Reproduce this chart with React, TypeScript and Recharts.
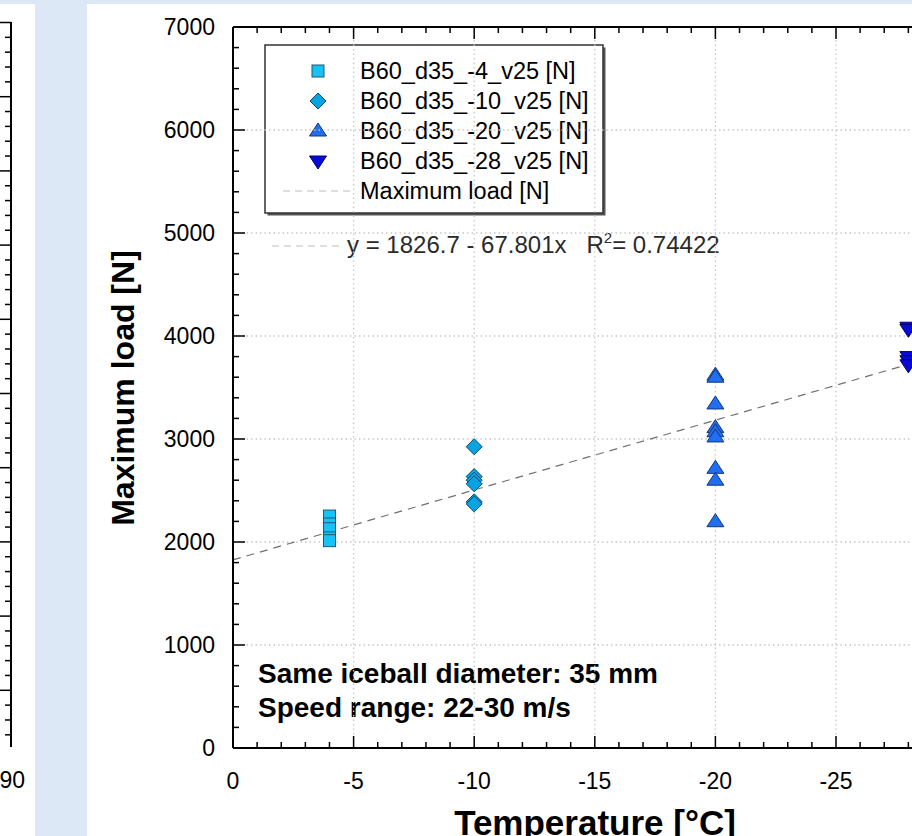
import React from 'react';
import { ComposedChart, Scatter, XAxis, YAxis, ReferenceLine, Customized } from 'recharts';

// ---------- data ----------
const seriesNames = ['B60_d35_-4_v25 [N]', 'B60_d35_-10_v25 [N]', 'B60_d35_-20_v25 [N]', 'B60_d35_-28_v25 [N]'];
const seriesTemps = [-4, -10, -20, -28];
const loadsMinus4 = [2252, 2175, 2129, 2040, 2013];
const loadsMinus10 = [2925, 2635, 2600, 2565, 2390, 2370];
const loadsMinus20 = [3620, 3600, 3340, 3110, 3070, 3020, 2715, 2600, 2197];
const loadsMinus28 = [4085, 4065, 3800, 3760, 3720];
const fitName = 'Maximum load [N]';
const fitIntercept = 1826.7;
const fitSlope = -67.801;
const fitR2 = '0.74422';
const fitTempRange = [0, -30];
const xTicks = Array.from({ length: 31 }, (_, i) => -i);
const yTicks = Array.from({ length: 36 }, (_, i) => i * 200);
const xMajor = [-5, -10, -15, -20, -25];
const yMajor = [1000, 2000, 3000, 4000, 5000, 6000];
const noteLines = ['Same iceball diameter: 35 mm', 'Speed range: 22-30 m/s'];
const leftPanelLabel = '90';

const toData = (t: number, loads: number[]) => loads.map((load) => ({ t, load }));
const data4 = toData(seriesTemps[0], loadsMinus4);
const data10 = toData(seriesTemps[1], loadsMinus10);
const data20 = toData(seriesTemps[2], loadsMinus20);
const data28 = toData(seriesTemps[3], loadsMinus28);

const FONT = '"Liberation Sans", Arial, Helvetica, sans-serif';
const COLORS = {
  sq: '#16c3f4', sqS: '#1f5a70',
  dm: '#0aa3e2', dmS: '#0c4a6a',
  up: '#1f6ff0', upS: '#16367a',
  dn: '#0a0ad6', dnS: '#00006e',
};

// ---------- marker shapes ----------
const Square = ({ cx, cy }: any) => (
  <rect x={cx - 6} y={cy - 6} width={12} height={12} fill={COLORS.sq} stroke={COLORS.sqS} strokeWidth={1} />
);
const Diamond = ({ cx, cy }: any) => (
  <polygon points={`${cx},${cy - 8} ${cx + 8},${cy} ${cx},${cy + 8} ${cx - 8},${cy}`} fill={COLORS.dm} stroke={COLORS.dmS} strokeWidth={1} />
);
const TriUp = ({ cx, cy }: any) => (
  <polygon points={`${cx},${cy - 8} ${cx + 8.5},${cy + 5} ${cx - 8.5},${cy + 5}`} fill={COLORS.up} stroke={COLORS.upS} strokeWidth={1} />
);
const TriDown = ({ cx, cy }: any) => (
  <polygon points={`${cx - 8.5},${cy - 5} ${cx + 8.5},${cy - 5} ${cx},${cy + 8}`} fill={COLORS.dn} stroke={COLORS.dnS} strokeWidth={1} />
);
const shapes = [Square, Diamond, TriUp, TriDown];

// ---------- ticks ----------
const BottomTick = ({ x, y, payload }: any) => {
  const v = payload.value;
  const major = v % 5 === 0;
  return (
    <g>
      <line x1={x} x2={x} y1={y} y2={y - (major ? 12 : 6)} stroke="#000" strokeWidth={1.5} />
      {major && v > -30 && (
        <text x={x} y={y + 41} textAnchor="middle" fontSize={23} fontFamily={FONT} fill="#000">
          {v === 0 ? '0' : String(v)}
        </text>
      )}
    </g>
  );
};
const TopTick = ({ x, y, payload }: any) => {
  const v = payload.value;
  const major = v % 5 === 0;
  return <line x1={x} x2={x} y1={y} y2={y + (major ? 12 : 6)} stroke="#000" strokeWidth={1.5} />;
};
const LeftTick = ({ x, y, payload }: any) => {
  const v = payload.value;
  const major = v % 1000 === 0;
  return (
    <g>
      <line x1={x} x2={x + (major ? 12 : 6)} y1={y} y2={y} stroke="#000" strokeWidth={1.5} />
      {major && (
        <text x={x - 18} y={y + 8} textAnchor="end" fontSize={23} fontFamily={FONT} fill="#000">
          {String(v)}
        </text>
      )}
    </g>
  );
};

// ---------- overlay texts & legend ----------
const Overlay = () => {
  const lx = 178, ly = 41, lw = 338, lh = 168;
  const rowY = [67, 97, 127, 157, 187];
  return (
    <g>
      {/* axis titles */}
      <text x={47} y={384} transform="rotate(-90, 47, 384)" textAnchor="middle" fontSize={32} fontWeight="bold" fontFamily={FONT} fill="#000">
        Maximum load [N]
      </text>
      <text x={508} y={831} textAnchor="middle" fontSize={35} fontWeight="bold" fontFamily={FONT} fill="#000">
        Temperature [°C]
      </text>
      {/* notes */}
      {noteLines.map((s, i) => (
        <text key={s} x={171} y={679 + i * 34} fontSize={28} fontWeight="bold" fontFamily={FONT} fill="#000">{s}</text>
      ))}
      {/* equation */}
      <line x1={185} x2={253} y1={242} y2={242} stroke="#bdbdbd" strokeWidth={1.2} strokeDasharray="7 5" />
      <text x={260} y={249} fontSize={24} fontFamily={FONT} fill="#2a2a2a" xmlSpace="preserve" style={{ whiteSpace: 'pre' }}>
        {`y = ${fitIntercept} - ${Math.abs(fitSlope)}x   R`}
        <tspan fontSize={15} dy={-10}>2</tspan>
        <tspan dy={10}>{`= ${fitR2}`}</tspan>
      </text>
      {/* legend */}
      <rect x={lx + 2.5} y={ly + 2.5} width={lw} height={lh} fill="#555" />
      <rect x={lx} y={ly} width={lw} height={lh} fill="#fff" stroke="#333" strokeWidth={1.5} />
      {seriesNames.map((name, i) => {
        const Shape = shapes[i];
        return (
          <g key={name}>
            <Shape cx={231} cy={rowY[i]} />
            <text x={273} y={rowY[i] + 8} fontSize={23.5} fontFamily={FONT} fill="#000">{name}</text>
          </g>
        );
      })}
      <line x1={196} x2={265} y1={rowY[4]} y2={rowY[4]} stroke="#bdbdbd" strokeWidth={1.2} strokeDasharray="7 5" />
      <text x={273} y={rowY[4] + 8} fontSize={23.5} fontFamily={FONT} fill="#000">{fitName}</text>
    </g>
  );
};

// ---------- left fragment of neighbouring panel ----------
const LeftFragment = () => {
  const ticks = Array.from({ length: 49 }, (_, i) => i);
  return (
    <svg width={35} height={832} style={{ display: 'block' }}>
      <line x1={11} x2={11} y1={18} y2={743} stroke="#000" strokeWidth={2} />
      {ticks.map((i) => {
        const y = 18.5 + i * 14.84;
        const major = i % 5 === 0;
        return <line key={i} x1={major ? 0 : 5} x2={11} y1={y} y2={y} stroke="#000" strokeWidth={1.5} />;
      })}
      <text x={25} y={784} textAnchor="end" fontSize={23} fontFamily={FONT} fill="#000">{leftPanelLabel}</text>
    </svg>
  );
};

export default function App() {
  const fitY0 = fitIntercept + fitSlope * fitTempRange[0];
  const fitY1 = fitIntercept + fitSlope * fitTempRange[1];
  return (
    <div style={{ position: 'absolute', left: 0, top: 0, width: 912, height: 836, overflow: 'hidden', background: '#dce8f5' }}>
      <div style={{ position: 'absolute', left: 0, top: 4, width: 35, height: 832, background: '#fff' }}>
        <LeftFragment />
      </div>
      <div style={{ position: 'absolute', left: 87, top: 4, width: 825, height: 832, background: '#fff', overflow: 'hidden' }}>
        <ComposedChart width={900} height={832} margin={{ top: 22, right: 30.4, bottom: 28, left: 86 }}>
          <XAxis
            xAxisId={0}
            type="number"
            dataKey="t"
            domain={[-30, 0]}
            reversed
            ticks={xTicks}
            interval={0}
            allowDataOverflow
            height={60}
            tickSize={0}
            tickMargin={0}
            tickLine={false}
            axisLine={{ stroke: '#000', strokeWidth: 2 }}
            tick={<BottomTick />}
          />
          <XAxis
            xAxisId="top"
            orientation="top"
            type="number"
            dataKey="t"
            domain={[-30, 0]}
            reversed
            ticks={xTicks}
            interval={0}
            allowDataOverflow
            height={1}
            tickSize={0}
            tickMargin={0}
            tickLine={false}
            axisLine={{ stroke: '#000', strokeWidth: 2 }}
            tick={<TopTick />}
          />
          <YAxis
            type="number"
            dataKey="load"
            domain={[0, 7000]}
            ticks={yTicks}
            interval={0}
            allowDataOverflow
            width={60}
            tickSize={0}
            tickMargin={0}
            tickLine={false}
            axisLine={{ stroke: '#000', strokeWidth: 2 }}
            tick={<LeftTick />}
          />
          {yMajor.map((v) => (
            <ReferenceLine key={'h' + v} y={v} stroke="#c8c8c8" strokeWidth={1.3} strokeDasharray="1.5 3" />
          ))}
          {xMajor.map((v) => (
            <ReferenceLine key={'v' + v} x={v} stroke="#c8c8c8" strokeWidth={1.3} strokeDasharray="1.5 3" />
          ))}
          <ReferenceLine
            segment={[{ x: fitTempRange[0], y: fitY0 }, { x: fitTempRange[1], y: fitY1 }]}
            stroke="#707070"
            strokeWidth={1.2}
            strokeDasharray="8 6"
          />
          <Scatter name={seriesNames[0]} data={data4} dataKey="load" shape={<Square />} isAnimationActive={false} />
          <Scatter name={seriesNames[1]} data={data10} dataKey="load" shape={<Diamond />} isAnimationActive={false} />
          <Scatter name={seriesNames[2]} data={data20} dataKey="load" shape={<TriUp />} isAnimationActive={false} />
          <Scatter name={seriesNames[3]} data={data28} dataKey="load" shape={<TriDown />} isAnimationActive={false} />
          <Customized component={<Overlay />} />
        </ComposedChart>
      </div>
    </div>
  );
}
